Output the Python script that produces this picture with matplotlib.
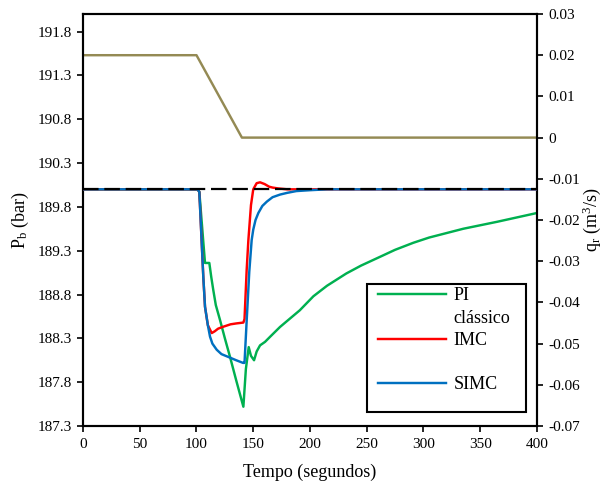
import matplotlib
matplotlib.use("Agg")
import matplotlib.pyplot as plt
from matplotlib.lines import Line2D
from matplotlib.patches import Rectangle

plt.rcParams['font.family'] = ['Liberation Serif', 'DejaVu Serif']
plt.rcParams['mathtext.fontset'] = 'custom'
plt.rcParams['mathtext.rm'] = 'Liberation Serif'
plt.rcParams['mathtext.it'] = 'Liberation Serif:italic'

# ---- data ----
setpoint = 190.0

t_simc = [0, 101, 102.5, 106, 107.5, 110, 111.9, 114, 117.8, 122, 129.5, 135, 141, 142.3,
          144, 146.5, 148.6, 150, 152, 154.5, 158, 162, 167, 173.6, 180, 188, 200, 215, 400]
p_simc = [190.0, 190.0, 189.97, 189.0, 188.66, 188.45, 188.32, 188.24, 188.17, 188.12, 188.08,
          188.05, 188.02, 188.02, 188.45, 189.06, 189.42, 189.54, 189.65, 189.73, 189.81,
          189.86, 189.91, 189.94, 189.96, 189.98, 189.99, 190.0, 190.0]

t_imc = [0, 101, 102.5, 106, 107.5, 110, 113.4, 116, 119, 123, 130, 135, 141.3, 142.3,
         144.2, 145.7, 148, 150, 153, 156, 160, 164, 167, 172, 180, 400]
p_imc = [190.0, 190.0, 189.97, 189.0, 188.66, 188.45, 188.36, 188.38, 188.41, 188.43, 188.46,
         188.47, 188.48, 188.52, 189.08, 189.42, 189.82, 190.0, 190.07, 190.08, 190.06,
         190.03, 190.02, 190.01, 190.0, 190.0]

t_pi = [0, 101, 102.5, 106, 107.5, 111.3, 113, 114.8, 117, 120.7, 125, 129.5, 135, 141.3,
        143.5, 146, 148, 150.7, 153, 156, 160.4, 165, 173.6, 180, 191, 203, 215, 232, 245,
        261.7, 275, 291, 305, 320, 335, 350, 365, 379, 400]
p_pi = [190.0, 190.0, 189.97, 189.4, 189.16, 189.16, 189.0, 188.85, 188.68, 188.51, 188.3,
        188.09, 187.82, 187.52, 187.95, 188.2, 188.1, 188.05, 188.15, 188.22, 188.26, 188.32,
        188.43, 188.5, 188.62, 188.78, 188.9, 189.04, 189.13, 189.23, 189.31, 189.39, 189.45,
        189.5, 189.55, 189.59, 189.63, 189.67, 189.73]

t_qr = [0, 100, 140, 400]
q_qr = [0.02, 0.02, 0.0, 0.0]

left_ticks = [187.3, 187.8, 188.3, 188.8, 189.3, 189.8, 190.3, 190.8, 191.3, 191.8]
right_ticks = [-0.07, -0.06, -0.05, -0.04, -0.03, -0.02, -0.01, 0, 0.01, 0.02, 0.03]
right_labels = ['-0.07', '-0.06', '-0.05', '-0.04', '-0.03', '-0.02', '-0.01', '0',
                '0.01', '0.02', '0.03']
x_ticks = [0, 50, 100, 150, 200, 250, 300, 350, 400]

# ---- figure ----
fig = plt.figure(figsize=(6.06, 4.84), dpi=100)
ax = fig.add_axes([83 / 606, 58 / 484, 454 / 606, 412 / 484])
ax2 = ax.twinx()

green = '#00B050'
red = '#FF0000'
blue = '#0070C0'
olive = '#948A54'
lw = 1.75

ax2.plot(t_qr, q_qr, color=olive, lw=lw, zorder=2)

ax.plot(t_pi, p_pi, color=green, lw=lw, zorder=2)
ax.plot(t_imc, p_imc, color=red, lw=lw, zorder=3)
ax.plot(t_simc, p_simc, color=blue, lw=lw, zorder=4)
ax.axhline(setpoint, color='black', lw=1.6, dashes=(7, 2.6), zorder=5)

ax.set_xlim(0, 400)
ax.set_ylim(187.3, 192.0)
ax2.set_ylim(-0.07, 0.03)

ax.set_xticks(x_ticks)
ax.set_xticklabels([str(v) for v in x_ticks])
ax.set_yticks(left_ticks)
ax.set_yticklabels(['%.1f' % v for v in left_ticks])
ax2.set_yticks(right_ticks)
ax2.set_yticklabels(right_labels)

for a in (ax, ax2):
    a.tick_params(direction='out', length=4, width=1.2, labelsize=11, pad=4)
    for s in a.spines.values():
        s.set_linewidth(1.5)
ax.tick_params(axis='x', pad=5)

ax.set_xlabel('Tempo (segundos)', fontsize=13, labelpad=9)
ax.set_ylabel(r'P$_\mathrm{b}$ (bar)', fontsize=13, labelpad=5)
ax2.set_ylabel(r'q$_\mathrm{r}$ (m$^3$/s)', fontsize=13, rotation=90, labelpad=0.5)

ax.patch.set_visible(False)
ax2.set_zorder(0)
ax.set_zorder(1)

# legend frame (drawn as a box) and legend entries
ax.add_patch(Rectangle(((367 - 83) / 454, (426 - 412) / 412), (526 - 367) / 454,
                       (412 - 284) / 412, transform=ax.transAxes, facecolor='white',
                       edgecolor='black', lw=1.5, zorder=6))
blank = Line2D([], [], color='none')
handles = [Line2D([], [], color=green, lw=lw), blank,
           Line2D([], [], color=red, lw=lw), blank,
           Line2D([], [], color=blue, lw=lw)]
labels = ['PI', 'clássico', 'IMC', ' ', 'SIMC']
leg = ax.legend(handles, labels, loc='upper left',
                bbox_to_anchor=((377.7 - 83) / 454, (426 - 287.5) / 412),
                borderaxespad=0, fontsize=13, handlelength=3.8, handletextpad=0.4,
                labelspacing=0.29, borderpad=0, frameon=False)
leg.set_zorder(7)

fig.savefig('out.png', dpi=100)
